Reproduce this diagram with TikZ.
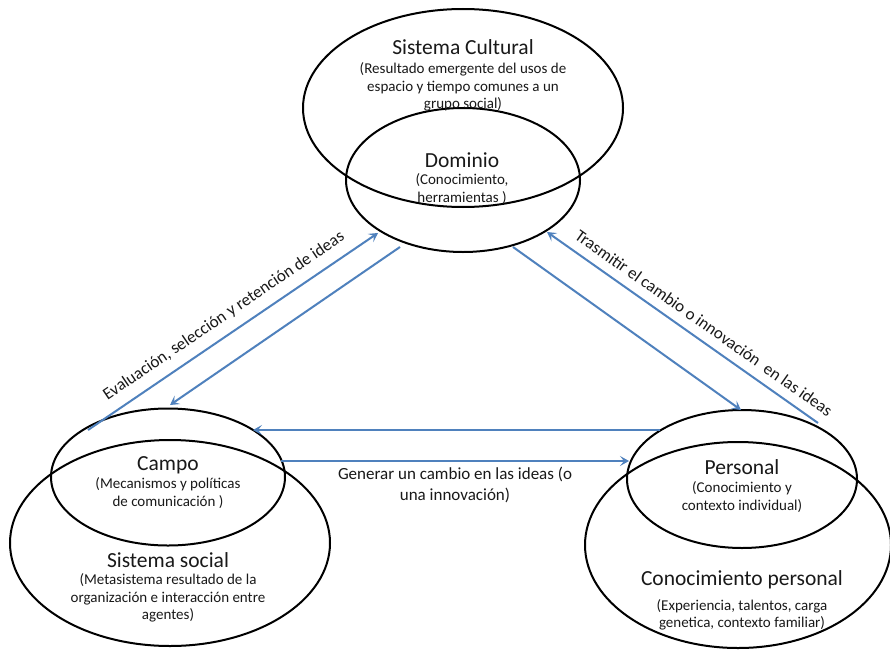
\documentclass[tikz,border=0pt]{standalone}
\usepackage{fontspec}
\setmainfont{Carlito}
\usetikzlibrary{shapes.geometric,arrows.meta}
\definecolor{arrowblue}{RGB}{79,129,189}
\definecolor{txt}{RGB}{25,25,25}
\begin{document}
\begin{tikzpicture}[x=1pt,y=-1pt,
  ell/.style={draw=black, line width=2pt, ellipse, inner sep=0pt},
  ttl/.style={text=txt, font=\fontsize{21.5}{25}\selectfont, inner sep=0pt},
  sub/.style={text=txt, font=\fontsize{15}{17.5}\selectfont, align=center, inner sep=0pt},
  lab/.style={text=txt, font=\fontsize{17}{21}\selectfont, align=center, inner sep=0pt},
  arr/.style={draw=arrowblue, line width=2pt, -{Stealth[length=9pt,width=10pt,inset=4pt]}}
]
\useasboundingbox (0,0) rectangle (890,650);
\fill[white] (0,0) rectangle (890,650);

% ellipses
\node[ell, minimum width=320pt, minimum height=198pt] (cult) at (463,108) {};
\node[ell, minimum width=234pt, minimum height=144pt] (dom) at (463,180) {};
\node[ell, minimum width=234pt, minimum height=137pt] (campo) at (168,477) {};
\node[ell, minimum width=320pt, minimum height=206pt] (soc) at (170,543) {};
\node[ell, minimum width=230pt, minimum height=138pt] (pers) at (742,479) {};
\node[ell, minimum width=306pt, minimum height=206pt] (conp) at (738,545) {};

% texts
\node[ttl] (tcult) at (463,47) {Sistema Cultural};
\node[sub] (scult) at (463,87) {(Resultado emergente del usos de\\espacio y tiempo comunes a un\\grupo social)};
\node[ttl] (tdom) at (462,160) {Dominio};
\node[sub] (sdom) at (462,189) {(Conocimiento,\\herramientas )};
\node[ttl] (tcampo) at (168,465) {Campo};
\node[sub] (scampo) at (168,493) {(Mecanismos y políticas\\de comunicación )};
\node[ttl] (tsoc) at (168,560) {Sistema social};
\node[sub] (ssoc) at (168,598) {(Metasistema resultado de la\\organización e interacción entre\\agentes)};
\node[ttl] (tpers) at (742,467) {Personal};
\node[sub] (spers) at (742,497) {(Conocimiento y\\contexto individual)};
\node[ttl] (tconp) at (742,580) {Conocimiento personal};
\node[sub] (sconp) at (742,615) {(Experiencia, talentos, carga\\genetica, contexto familiar)};

% arrow end points
\coordinate (a1s) at (88,430);
\coordinate (a1e) at (378,233);
\coordinate (a2s) at (400,247);
\coordinate (a2e) at (170,405);
\coordinate (a3s) at (660,430);
\coordinate (a3e) at (253,430);
\coordinate (a4s) at (281,461);
\coordinate (a4e) at (629,461);
\coordinate (a5s) at (513,247);
\coordinate (a5e) at (741,410);
\coordinate (a6s) at (818,423);
\coordinate (a6e) at (547,232);

\draw[arr] (a1s) -- (a1e);
\draw[arr] (a2s) -- (a2e);
\draw[arr] (a3s) -- (a3e);
\draw[arr] (a4s) -- (a4e);
\draw[arr] (a5s) -- (a5e);
\draw[arr] (a6s) -- (a6e);

% labels
\node[lab, rotate=34.2] (l1) at (224,316) {Evaluación, selección y retención de ideas};
\node[lab, rotate=-35.2] (l6) at (704,323) {Trasmitir el cambio o innovación~ en las ideas};
\node[lab] (l4) at (455,485) {Generar un cambio en las ideas (o\\una innovación)};
\end{tikzpicture}
\end{document}
